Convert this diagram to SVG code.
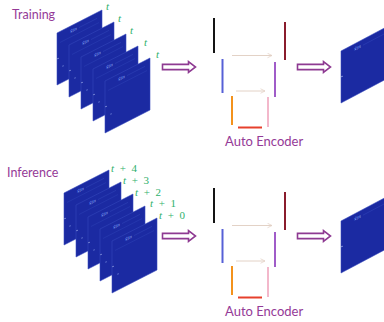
<svg xmlns="http://www.w3.org/2000/svg" xmlns:xlink="http://www.w3.org/1999/xlink" width="384" height="322" viewBox="0 0 384 322">
  <style>
    .title { font-family: Lato, "Open Sans", sans-serif; font-size: 12.5px; fill: #953a97; }
    .ae-label { font-family: Lato, "Open Sans", sans-serif; font-size: 13px; fill: #953a97; }
    .tlab { font-family: "Liberation Serif", "DejaVu Serif", serif; font-size: 11px; fill: #2eb06c; }
    .tlab .v { font-style: italic; }
    .flow { fill: #ffffff; stroke: #8e3a92; stroke-width: 1.6; stroke-linejoin: miter; }
    .bar { stroke-width: 2; stroke-linecap: butt; fill: none; }
    .skip { stroke: #e3d2c6; stroke-width: 1; fill: none; marker-end: url(#skipHead); }
    .frame-bg { fill: #1b2aa2; stroke: #3549bd; stroke-width: 0.5; }
    .frame-txt { font-family: "DejaVu Serif", serif; font-style: italic; font-size: 4.5px; fill: #8fb4ff; }
    .frame-line { stroke: #3d56c8; stroke-width: 0.5; fill: none; }
  </style>
  <defs>
    <marker id="skipHead" viewBox="0 0 8 8" refX="7" refY="4" markerWidth="6" markerHeight="6" orient="auto" markerUnits="userSpaceOnUse">
      <path d="M1,1 L7,4 L1,7" fill="none" stroke="#e3d2c6" stroke-width="1"/>
    </marker>
    <!-- one video frame, drawn upright 45x52 then sheared into perspective -->
    <g id="frame">
      <g transform="matrix(1,-0.511,0,1,0,0)">
        <rect class="frame-bg" x="0" y="0" width="45" height="52"/>
        <text class="frame-txt" x="13" y="7">x̂in</text>
        <line class="frame-line" x1="22" y1="5.8" x2="40" y2="5.8" opacity="0.6"/>
        <line class="frame-line" x1="3" y1="11" x2="42" y2="11" opacity="0.5"/>
        <circle cx="1" cy="26" r="0.6" fill="#c8d6ff"/>
        <circle cx="6" cy="36" r="0.5" fill="#a9bdff"/>
      </g>
    </g>
    <!-- hollow block arrow -->
    <path id="blockArrow" d="M0,-2.6 L26,-2.6 L26,-5.4 L33,0 L26,5.4 L26,2.6 L0,2.6 Z"/>
    <!-- encoder/decoder stack -->
    <g id="autoencoder">
      <line class="bar" x1="214" y1="18" x2="214" y2="53" stroke="#141414"/>
      <line class="bar" x1="285" y1="22" x2="285" y2="60" stroke="#8a1c2c"/>
      <line class="bar" x1="222.5" y1="59" x2="222.5" y2="93" stroke="#5660d6"/>
      <line class="bar" x1="275" y1="62" x2="275" y2="97" stroke="#a05cc8"/>
      <line class="bar" x1="232" y1="96" x2="232" y2="125" stroke="#f3921c"/>
      <line class="bar" x1="268" y1="97" x2="268" y2="127" stroke="#f3b8cb"/>
      <line class="bar" x1="238" y1="127.5" x2="262" y2="127.5" stroke="#e6402c"/>
      <line class="skip" x1="232" y1="55.5" x2="272" y2="55.5"/>
      <line class="skip" x1="236" y1="91" x2="265" y2="91"/>
      <text class="ae-label" x="225" y="146">Auto Encoder</text>
    </g>
  </defs>

  <!-- Training row -->
  <g id="training-title"><text class="title" x="12" y="19">Training</text></g>
  <g id="training-frames">
    <use xlink:href="#frame" x="57" y="33"/>
    <use xlink:href="#frame" x="69" y="45"/>
    <use xlink:href="#frame" x="81" y="57"/>
    <use xlink:href="#frame" x="93" y="69"/>
    <use xlink:href="#frame" x="105" y="81"/>
    <text class="tlab" x="106" y="10"><tspan class="v">t</tspan></text>
    <text class="tlab" x="118" y="22"><tspan class="v">t</tspan></text>
    <text class="tlab" x="130" y="34"><tspan class="v">t</tspan></text>
    <text class="tlab" x="144" y="46"><tspan class="v">t</tspan></text>
    <text class="tlab" x="156" y="58"><tspan class="v">t</tspan></text>
  </g>
  <g id="training-autoencoder"><use xlink:href="#autoencoder"/></g>
  <g id="training-output">
    <g transform="matrix(1,-0.53,0,1,341,51)">
      <rect class="frame-bg" x="0" y="0" width="50" height="52"/>
      <text class="frame-txt" x="13" y="7">x̂in</text>
      <line class="frame-line" x1="22" y1="5.8" x2="48" y2="5.8" opacity="0.6"/>
      <circle cx="1" cy="26" r="0.6" fill="#c8d6ff"/>
    </g>
  </g>

  <!-- Inference row -->
  <g id="inference-title"><text class="title" x="7" y="177">Inference</text></g>
  <g id="inference-frames">
    <use xlink:href="#frame" x="64" y="193"/>
    <use xlink:href="#frame" x="76" y="205"/>
    <use xlink:href="#frame" x="88" y="217"/>
    <use xlink:href="#frame" x="100" y="229"/>
    <use xlink:href="#frame" x="112" y="241"/>
    <text class="tlab" x="111" y="172" textLength="26" lengthAdjust="spacing"><tspan class="v">t</tspan> + 4</text>
    <text class="tlab" x="123" y="184" textLength="26" lengthAdjust="spacing"><tspan class="v">t</tspan> + 3</text>
    <text class="tlab" x="135" y="196" textLength="26" lengthAdjust="spacing"><tspan class="v">t</tspan> + 2</text>
    <text class="tlab" x="150" y="207" textLength="26" lengthAdjust="spacing"><tspan class="v">t</tspan> + 1</text>
    <text class="tlab" x="159" y="219" textLength="26" lengthAdjust="spacing"><tspan class="v">t</tspan> + 0</text>
  </g>
  <g id="inference-autoencoder"><use xlink:href="#autoencoder" y="170"/></g>
  <g id="inference-output">
    <g transform="matrix(1,-0.53,0,1,341,221)">
      <rect class="frame-bg" x="0" y="0" width="50" height="52"/>
      <text class="frame-txt" x="13" y="7">x̂in</text>
      <line class="frame-line" x1="22" y1="5.8" x2="48" y2="5.8" opacity="0.6"/>
      <circle cx="1" cy="26" r="0.6" fill="#c8d6ff"/>
    </g>
  </g>

  <!-- flow arrows between stages -->
  <g id="connectors">
    <use class="flow" xlink:href="#blockArrow" transform="translate(162.5,67)"/>
    <use class="flow" xlink:href="#blockArrow" transform="translate(297.5,67)"/>
    <use class="flow" xlink:href="#blockArrow" transform="translate(162.5,236)"/>
    <use class="flow" xlink:href="#blockArrow" transform="translate(297.5,236)"/>
  </g>
</svg>
